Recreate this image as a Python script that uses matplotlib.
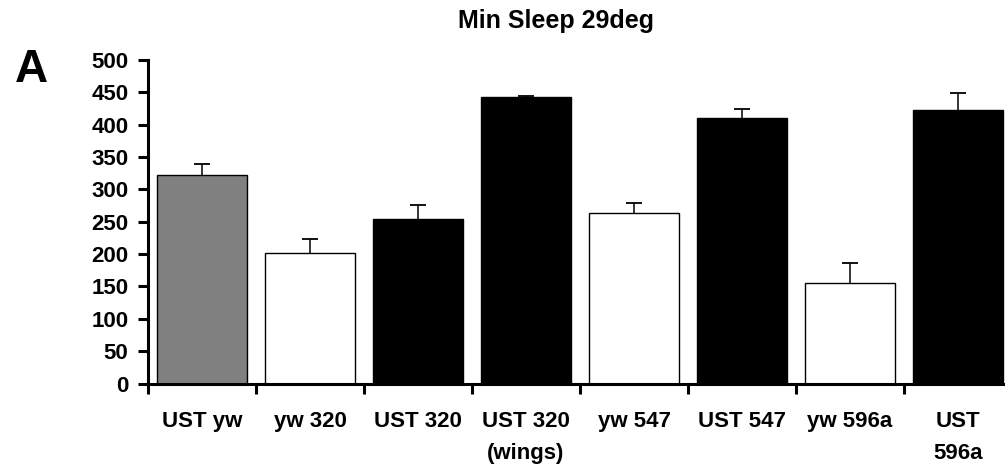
import numpy as np
import matplotlib
matplotlib.use("Agg")
import matplotlib.pyplot as plt

# values
labels = ["UST yw", "yw 320", "UST 320", "UST 320\n(wings)", "yw 547",
          "UST 547", "yw 596a", "UST\n596a"]
means = [322, 202, 255, 443, 263, 410, 156, 422]
sem = [18, 21, 21, 1, 16, 15, 31, 27]
colors = ["#808080", "white", "black", "black", "white", "black", "white", "black"]

plt.rcParams["font.family"] = ["Liberation Sans", "DejaVu Sans"]
plt.rcParams["font.weight"] = "bold"

fig = plt.figure(figsize=(10.05, 4.67), dpi=100)
ax = fig.add_axes([148 / 1005, 83.5 / 467, 864 / 1005, 323.5 / 467])

x = np.arange(len(labels))
ax.bar(x, means, width=0.84, color=colors, edgecolor="black", linewidth=1.0, zorder=2)
# upper error bars only
tops = np.array(means) + np.array(sem)
ax.vlines(x, means, tops, color="black", linewidth=1.1, zorder=1)
ax.hlines(tops, x - 0.075, x + 0.075, color="black", linewidth=1.3, zorder=1)

ax.set_xlim(-0.5, len(labels) - 0.5)
ax.set_ylim(0, 500)
ax.set_yticks(np.arange(0, 501, 50))
ax.set_xticks(x)
ax.set_xticklabels(labels, fontsize=16, fontweight="bold", linespacing=1.65, va="top")
ax.set_xticks(np.arange(-0.5, len(labels), 1.0), minor=True)
ax.tick_params(axis="x", which="major", length=0, pad=20)
ax.tick_params(axis="x", which="minor", length=7, width=2.2, direction="out")
ax.tick_params(axis="y", length=7, width=2.2, direction="out", labelsize=16, pad=7)
for t in ax.get_yticklabels():
    t.set_fontweight("bold")

for s in ["top", "right"]:
    ax.spines[s].set_visible(False)
for s in ["left", "bottom"]:
    ax.spines[s].set_linewidth(2.2)

fig.text(556 / 1005, (467 - 28) / 467, "Min Sleep 29deg", ha="center", va="baseline",
         fontsize=18, fontweight="bold")
fig.text(15 / 1005, (467 - 82) / 467, "A", ha="left", va="baseline",
         fontsize=33, fontweight="bold")

fig.savefig("out.png", dpi=100)
